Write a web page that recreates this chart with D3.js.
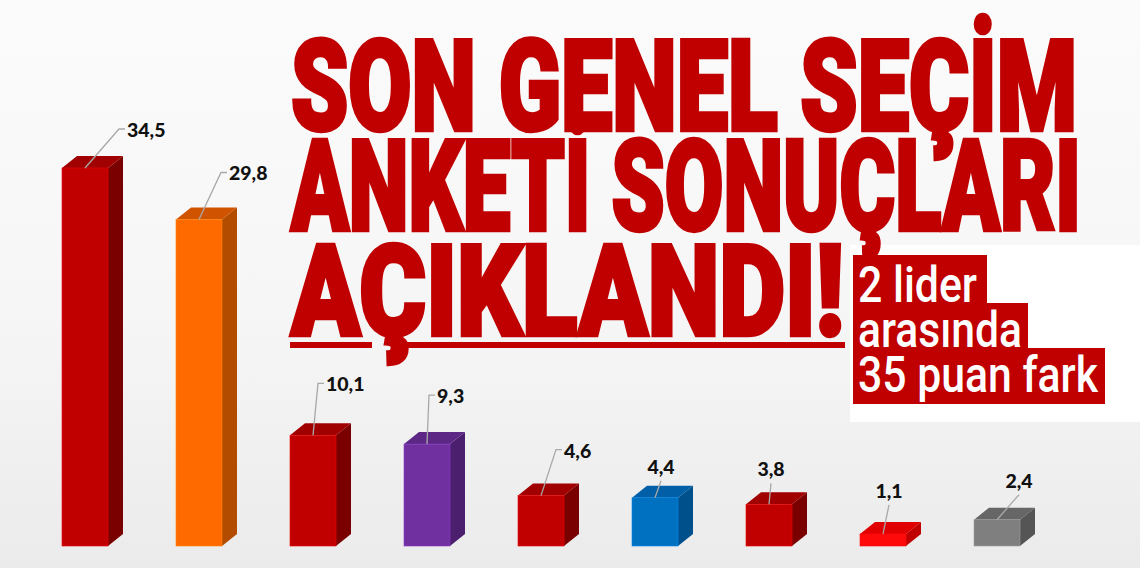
<!DOCTYPE html>
<html><head><meta charset="utf-8">
<script src="https://cdn.jsdelivr.net/npm/d3@7"></script>
<style>html,body{margin:0;padding:0;overflow:hidden;background:#f5f5f5}</style>
</head><body>
<svg id="chart" width="1140" height="568"></svg>
<script>
// ---- data ----
const categories = ["1","2","3","4","5","6","7","8","9"];
const values = [34.5, 29.8, 10.1, 9.3, 4.6, 4.4, 3.8, 1.1, 2.4];
const valueLabels = ["34,5","29,8","10,1","9,3","4,6","4,4","3,8","1,1","2,4"];
const titleLines = ["SON GENEL SEÇİM", "ANKETİ SONUÇLARI", "AÇIKLANDI!"];
const subtitleLines = ["2 lider", "arasında", "35 puan fark"];

// ---- styles / layout ----
const fronts = ["#c00000","#ff6a00","#c00000","#7030a0","#c00000","#0070c0","#c00000","#ff0a0a","#7f7f7f"];
const sides  = ["#7a0000","#b44c00","#7a0000","#4b1f6e","#7a0000","#00508c","#7a0000","#c00000","#555555"];
const tops   = ["#a00000","#d05400","#a00000","#5c2785","#a00000","#005fa6","#a00000","#e00000","#666666"];
// label placement: [type, dx, dy] relative to front-top centre
const labelLayout = [
  ["side",34,-39],["side",22,-47],["side",5,-52],["side",2,-49],["side",15,-46],
  ["top",6,-24],["top",2,-28],["top",6,-36],["top",22,-32]
];

const svg = d3.select("#chart");
const W = 1140, H = 568;
const defs = svg.append("defs");
const g = defs.append("linearGradient").attr("id","bg").attr("x1",0).attr("y1",0).attr("x2",0).attr("y2",1);
g.append("stop").attr("offset","0%").attr("stop-color","#fbfbfb");
g.append("stop").attr("offset","55%").attr("stop-color","#f6f6f6");
g.append("stop").attr("offset","100%").attr("stop-color","#ebebeb");
svg.append("rect").attr("width",W).attr("height",H).attr("fill","url(#bg)");
svg.append("rect").attr("x",850).attr("y",245).attr("width",290).attr("height",177).attr("fill","#ffffff");

const x = d3.scaleBand().domain(categories).range([62, 62 + 114*(9-0.5965)]).paddingInner(0.5965).paddingOuter(0);
const y = d3.scaleLinear().domain([0, 34.5]).range([546, 168]);
const dx = 15, dy = 12;
const bw = x.bandwidth();

const bars = svg.append("g").selectAll("g").data(values).join("g");
bars.append("polygon").attr("points",(d,i)=>{
  const x0=x(categories[i]), yt=y(d), yb=y(0);
  return [[x0+bw,yt],[x0+bw+dx,yt-dy],[x0+bw+dx,yb-dy],[x0+bw,yb]].join(" ");
}).attr("fill",(d,i)=>sides[i]);
bars.append("polygon").attr("points",(d,i)=>{
  const x0=x(categories[i]), yt=y(d);
  return [[x0,yt],[x0+dx,yt-dy],[x0+bw+dx,yt-dy],[x0+bw,yt]].join(" ");
}).attr("fill",(d,i)=>tops[i]);
bars.append("rect").attr("x",(d,i)=>x(categories[i])).attr("y",d=>y(d))
  .attr("width",bw).attr("height",d=>y(0)-y(d)).attr("fill",(d,i)=>fronts[i])
  .attr("stroke",(d,i)=>d3.color(fronts[i]).brighter(0.6)).attr("stroke-width",0.6);

// labels
const lab = svg.append("g");
const labFont = (sel)=>sel.attr("font-family","Lato, 'Open Sans', sans-serif").attr("font-weight",900)
  .attr("font-size",19.5).attr("fill","#111");
values.forEach((d,i)=>{
  const cx = x(categories[i]) + bw/2, ty = y(d);
  const [type, ox, oy] = labelLayout[i];
  if (type === "side") {
    const ex = cx+ox, ey = ty+oy;
    lab.append("polyline").attr("points",[[cx,ty],[ex,ey],[ex+6,ey]].join(" "))
      .attr("fill","none").attr("stroke","#a8a8a8").attr("stroke-width",1.3);
    labFont(lab.append("text").attr("x",ex+8).attr("y",ey+8).text(valueLabels[i]));
  } else {
    const tx = cx+ox, tyy = ty+oy;
    lab.append("line").attr("x1",cx).attr("y1",ty).attr("x2",tx).attr("y2",tyy+7)
      .attr("stroke","#a8a8a8").attr("stroke-width",1.3);
    labFont(lab.append("text").attr("x",tx).attr("y",tyy).attr("text-anchor","middle").text(valueLabels[i]));
  }
});

// title (condensed look: half-size font stretched vertically)
const titleBase = [130, 230, 335];
const titleLen = [786, 790, 553];
const tg = svg.append("g");
titleLines.forEach((t,i)=>{
  tg.append("g").attr("transform",`translate(291,${titleBase[i]}) scale(1,2)`)
    .append("text").attr("x",0).attr("y",0).text(t)
    .attr("font-family","Roboto, 'DejaVu Sans', sans-serif").attr("font-weight",900)
    .attr("font-size",63).attr("fill","#c00000")
    .attr("stroke","#c00000").attr("stroke-width",3.5).attr("vector-effect","non-scaling-stroke")
    .attr("stroke-linejoin","miter")
    .attr("textLength",titleLen[i]).attr("lengthAdjust","spacingAndGlyphs");
});
tg.append("rect").attr("x",290).attr("y",342).attr("width",82).attr("height",6).attr("fill","#c00000");
tg.append("rect").attr("x",400).attr("y",342).attr("width",445).attr("height",6).attr("fill","#c00000");

// subtitle boxes
const boxes = [[853,255,134,48],[853,303,175,45],[853,348,252,56]];
const subBase = [302, 347, 392];
const subLen = [119, 164, 240];
const sg = svg.append("g");
subtitleLines.forEach((t,i)=>{
  const b = boxes[i];
  sg.append("rect").attr("x",b[0]).attr("y",b[1]).attr("width",b[2]).attr("height",b[3]).attr("fill","#c00000");
});
subtitleLines.forEach((t,i)=>{
  sg.append("text").attr("x",858).attr("y",subBase[i]).text(t)
    .attr("font-family","Roboto, 'DejaVu Sans', sans-serif").attr("font-weight",500)
    .attr("font-size",50).attr("fill","#ffffff")
    .attr("textLength",subLen[i]).attr("lengthAdjust","spacingAndGlyphs");
});
</script>
</body></html>
